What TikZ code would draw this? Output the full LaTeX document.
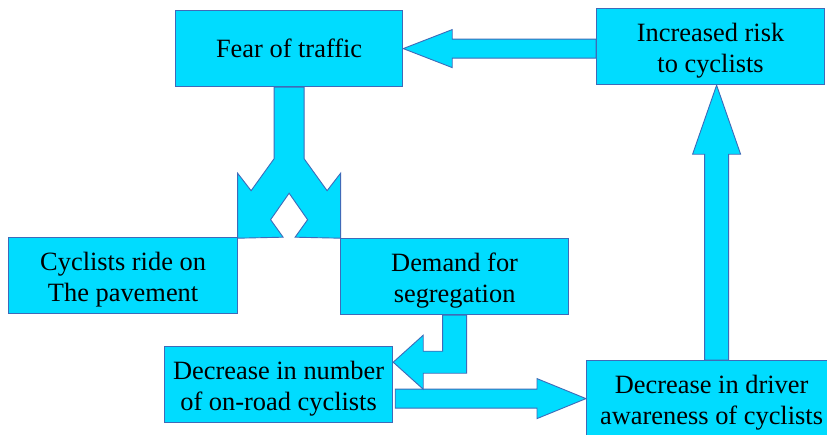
\documentclass[tikz,border=0pt]{standalone}
\usepackage{fontspec}
\setmainfont{Liberation Serif}
\usetikzlibrary{calc}
\definecolor{boxfill}{HTML}{00DCFF}
\definecolor{boxline}{HTML}{3F6AB8}
\pgfdeclarelayer{paper}
\pgfdeclarelayer{arrows}
\pgfsetlayers{paper,arrows,main}
% invisible struts giving each text line a fixed ascent and descent
\newcommand{\botstrut}{\rule[-0.216em]{0pt}{0.216em}}
\newcommand{\topstrut}{\rule{0pt}{1.0em}}
\tikzset{
  box/.style={draw=boxline, fill=boxfill, line width=1.2pt, align=center,
    inner sep=0pt, anchor=north west,
    font=\fontsize{26.4}{30.5}\selectfont},
  blockarrow/.style={draw=boxline, fill=boxfill, line width=0.9pt, line join=miter}
}
\begin{document}
\begin{tikzpicture}[x=1pt,y=-1pt]
\useasboundingbox (0,0) rectangle (827,434);
\begin{pgfonlayer}{paper}
  \fill[white] (0,0) rectangle (827,434);
\end{pgfonlayer}

% boxes
\node[box, minimum width=227pt, minimum height=76pt] (fear) at (175,10) {Fear of traffic};
\node[box, minimum width=228pt, minimum height=76pt] (risk) at (596,8)
  {\topstrut Increased risk\\to cyclists\botstrut};
\node[box, minimum width=229pt, minimum height=76pt] (cyc) at (8,237)
  {\topstrut Cyclists ride on\\The pavement\botstrut};
\node[box, minimum width=228pt, minimum height=76pt] (dem) at (340,238)
  {\topstrut Demand for\\segregation\botstrut};
\node[box, minimum width=228pt, minimum height=76pt] (num) at (164,346)
  {\topstrut Decrease in number\\of on-road cyclists\botstrut};
\node[box, minimum width=250pt, minimum height=76pt] (drv) at (586,360)
  {\topstrut Decrease in driver\\awareness of cyclists\botstrut};

\begin{pgfonlayer}{arrows}
  % risk -> fear
  \coordinate (hb) at ($(fear.east)+(49,0)$);
  \draw[blockarrow] (fear.east) -- ($(hb)+(0,-19)$) -- ($(hb)+(0,-9.5)$)
    -- ($(risk.west|-hb)+(0,-9.5)$) -- ($(risk.west|-hb)+(0,9.5)$)
    -- ($(hb)+(0,9.5)$) -- ($(hb)+(0,19)$) -- cycle;

  % driver awareness -> risk
  \coordinate (ub) at ($(drv.north)+(5,0)$);
  \coordinate (ut) at (ub|-risk.south);
  \draw[blockarrow] (ut) -- ($(ut)+(24,69)$) -- ($(ut)+(12,69)$)
    -- ($(ub)+(12,0)$) -- ($(ub)+(-12,0)$)
    -- ($(ut)+(-12,69)$) -- ($(ut)+(-24,69)$) -- cycle;

  % number -> driver awareness
  \coordinate (rt) at (num.east|-drv.west);
  \draw[blockarrow] (drv.west) -- ($(drv.west)+(-49,-20)$) -- ($(drv.west)+(-49,-9.5)$)
    -- ($(rt)+(2,-9.5)$) -- ($(rt)+(2,9.5)$)
    -- ($(drv.west)+(-49,9.5)$) -- ($(drv.west)+(-49,20)$) -- cycle;

  % demand -> number (bent)
  \coordinate (elb) at ($(dem.south)+(0,47)$);
  \coordinate (bt) at (num.east|-elb);
  \draw[blockarrow] ($(dem.south)+(-12,0)$) -- ($(dem.south)+(12,0)$)
    -- ($(elb)+(12,11)$) -- ($(bt)+(30,11)$) -- ($(bt)+(30,27)$)
    -- (bt) -- ($(bt)+(30,-27)$) -- ($(bt)+(30,-11)$)
    -- ($(elb)+(-12,-11)$) -- cycle;

  % fear -> cyclists / demand (split)
  \begin{scope}[shift={(fear.south)}]
    \draw[blockarrow] (-15,0) -- (15,0) -- (15,71.5) -- (38,103.5) -- (51.5,86)
      -- (51.5,151) -- (6,150) -- (18.5,132.5) -- (0,106) -- (-18.5,132.5)
      -- (-6,150) -- (-51.5,151) -- (-51.5,86) -- (-38,103.5) -- (-15,71.5) -- cycle;
  \end{scope}
\end{pgfonlayer}
\end{tikzpicture}
\end{document}
